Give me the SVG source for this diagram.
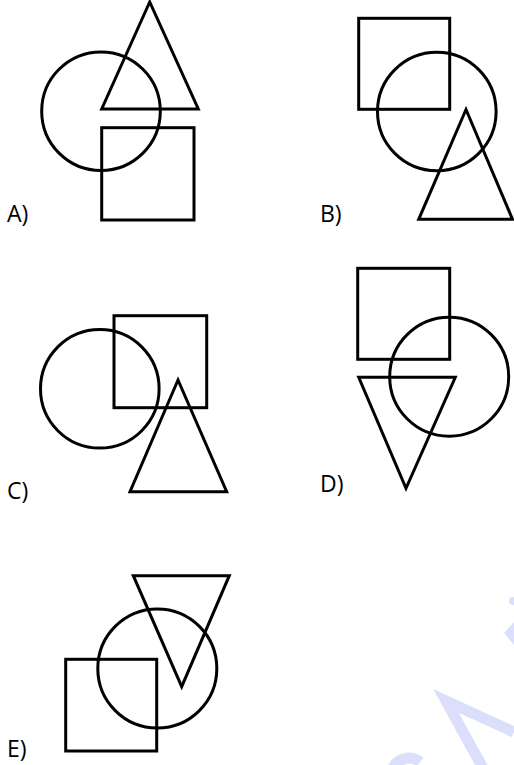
<svg xmlns="http://www.w3.org/2000/svg" width="514" height="765" viewBox="0 0 514 765">
<style>
.s{fill:none;stroke:#000;stroke-width:3;stroke-linejoin:miter}
.l{font-family:"Open Sans","Liberation Sans",sans-serif;font-size:23px;fill:#000}
.w{fill:none;stroke:#DCDFFB;stroke-width:11;stroke-linejoin:miter}
</style>
<rect width="514" height="765" fill="#fff"/>
<g id="watermark">
<polyline class="w" points="514,732 446,701 484,770"/>
<polygon points="504,633 514,622 514,645" fill="#DCDFFB"/>
<circle cx="513" cy="601" r="4" fill="#DCDFFB"/>
<path d="M392,770 A18,18 0 0 1 420,762" class="w"/>
</g>
<g id="optionA">
<polygon class="s" points="149.7,2 101.7,109 198.3,109"/>
<circle class="s" cx="101" cy="111.2" r="59.3"/>
<rect class="s" x="101.7" y="127.7" width="92.3" height="92.3"/>
<text class="l" x="7" y="222">A)</text>
</g>
<g id="optionB">
<rect class="s" x="358.7" y="18.3" width="91" height="91"/>
<circle class="s" cx="436.8" cy="111.5" r="59.3"/>
<polygon class="s" points="466,109.5 418.7,219.3 512.5,219.3"/>
<text class="l" x="320" y="222">B)</text>
</g>
<g id="optionC">
<rect class="s" x="114" y="315.7" width="92.7" height="92"/>
<circle class="s" cx="99.8" cy="388.8" r="59.3"/>
<polygon class="s" points="178,380 130,491.7 226.7,491.7"/>
<text class="l" x="7" y="499">C)</text>
</g>
<g id="optionD">
<rect class="s" x="357.7" y="268.3" width="92" height="91"/>
<circle class="s" cx="449.2" cy="376.7" r="59.5"/>
<polygon class="s" points="358.7,377.3 455.3,377.3 406,488.3"/>
<text class="l" x="320" y="492">D)</text>
</g>
<g id="optionE">
<polygon class="s" points="133.3,575.7 229.3,575.7 181.7,686.7"/>
<circle class="s" cx="157.3" cy="668.5" r="59.5"/>
<rect class="s" x="65.7" y="659.3" width="91" height="91.7"/>
<text class="l" x="7" y="757">E)</text>
</g>
</svg>
